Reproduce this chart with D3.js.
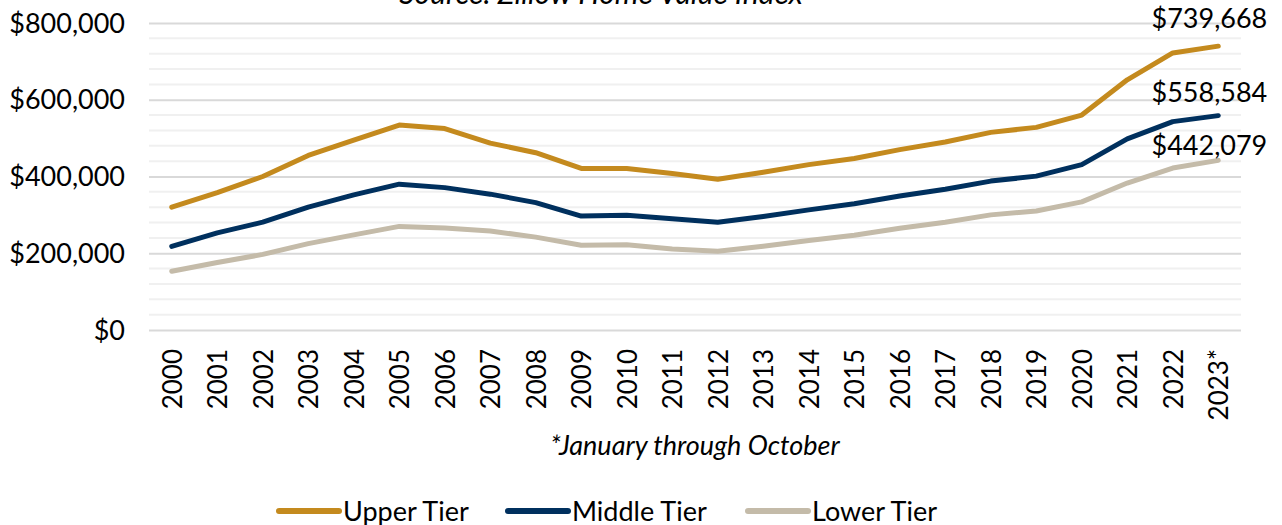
<!DOCTYPE html>
<html>
<head>
<meta charset="utf-8">
<script src="https://cdn.jsdelivr.net/npm/d3@7"></script>
<style>
  body { margin: 0; background: #fff; }
  text { font-family: Lato, "Noto Sans", sans-serif; fill: #000; }
</style>
</head>
<body>
<div class="svgContainer"></div>
<script>
// Data (Zillow Home Value Index)
var YEARS = ["2000", "2001", "2002", "2003", "2004", "2005", "2006", "2007", "2008", "2009", "2010", "2011",
             "2012", "2013", "2014", "2015", "2016", "2017", "2018", "2019", "2020", "2021", "2022", "2023*"];
var UPPER = [320000, 358000, 400000, 455000, 495000, 534000, 525000, 487000, 462000, 421000, 421000, 408000,
             393000, 411000, 431000, 447000, 470000, 490000, 515000, 528000, 560000, 652000, 722000, 739668];
var MIDDLE = [218000, 253000, 281000, 320000, 352000, 380000, 371000, 354000, 332000, 297000, 299000, 290000,
              281000, 296000, 313000, 329000, 349000, 367000, 388000, 401000, 431000, 498000, 543000, 558584];
var LOWER = [153000, 176000, 197000, 225000, 248000, 270000, 266000, 258000, 242000, 221000, 222000, 211000,
             205000, 218000, 233000, 247000, 265000, 281000, 300000, 310000, 334000, 383000, 422000, 442079];
var SERIES_NAMES = ["Upper Tier", "Middle Tier", "Lower Tier"];
var SERIES_COLORS = ["#C48A1E", "#00305E", "#C4BBA9"];
var Y_TICKS = [0, 200000, 400000, 600000, 800000];

var W = 1282, H = 525;
var margin = {left: 149, right: 41, top: 23, bottom: 195},
    width = W - margin.left - margin.right,
    height = H - margin.top - margin.bottom;

var svg = d3.select(".svgContainer").append("svg")
    .attr("width", W)
    .attr("height", H);

var g = svg.append("g")
    .attr("transform", "translate(" + margin.left + "," + margin.top + ")");

var scaleX = d3.scalePoint()
    .domain(YEARS)
    .range([0, width])
    .padding(0.5);

var scaleY = d3.scaleLinear()
    .domain([0, 800000])
    .range([height, 0]);

var money = function(d) { return "$" + d3.format(",")(d); };

// minor gridlines every 40,000
var minor = d3.range(40000, 800000, 40000).filter(function(v) { return v % 200000 !== 0; });
g.selectAll(".minor").data(minor).enter().append("line")
    .attr("x1", 0).attr("x2", width)
    .attr("y1", function(d) { return scaleY(d); })
    .attr("y2", function(d) { return scaleY(d); })
    .attr("stroke", "#f0f0f0")
    .attr("stroke-width", 2);

// y axis (major gridlines + labels)
var yAxis = g.append("g")
    .call(d3.axisLeft(scaleY).tickValues(Y_TICKS).tickSize(-width).tickPadding(24).tickFormat(money));
yAxis.select(".domain").remove();
yAxis.selectAll(".tick line").attr("stroke", "#d9d9d9").attr("stroke-width", 2);
yAxis.selectAll(".tick text")
    .attr("font-size", "27px")
    .attr("font-family", "Lato")
    .attr("fill", "#000")
    .attr("dy", "0.34em");

// x axis labels, rotated
var xAxis = g.append("g")
    .attr("transform", "translate(0," + height + ")")
    .call(d3.axisBottom(scaleX).tickSize(0).tickPadding(0));
xAxis.select(".domain").remove();
xAxis.selectAll(".tick text")
    .attr("font-size", "26px")
    .attr("font-family", "Liberation Sans, Arial, sans-serif")
    .attr("fill", "#000")
    .attr("text-anchor", "end")
    .attr("transform", "rotate(-90)")
    .attr("x", -19)
    .attr("y", 0)
    .attr("dy", "0.36em");

// lines
var line = d3.line()
    .x(function(d, i) { return scaleX(YEARS[i]); })
    .y(function(d) { return scaleY(d); });

var allSeries = [UPPER, MIDDLE, LOWER];
// draw lower first so the upper lines sit on top
[2, 1, 0].forEach(function(k) {
    g.append("path")
        .datum(allSeries[k])
        .attr("d", line)
        .attr("fill", "none")
        .attr("stroke", SERIES_COLORS[k])
        .attr("stroke-width", 5)
        .attr("stroke-linejoin", "round")
        .attr("stroke-linecap", "round");
});

// end value labels
var lastYear = YEARS[YEARS.length - 1];
var labelDy = [-18, -14, -5];
allSeries.forEach(function(s, k) {
    var v = s[s.length - 1];
    g.append("text")
        .attr("x", scaleX(lastYear) + 49)
        .attr("y", scaleY(v) + labelDy[k])
        .attr("text-anchor", "end")
        .attr("font-size", "27px")
        .text(money(v));
});

// title, mostly cut off at the top
svg.append("text")
    .attr("x", 601)
    .attr("y", 4)
    .attr("text-anchor", "middle")
    .attr("font-size", "30px")
    .attr("font-style", "italic")
    .text("Source: Zillow Home Value Index");

// footnote
svg.append("text")
    .attr("x", 695)
    .attr("y", 455)
    .attr("text-anchor", "middle")
    .attr("font-size", "27px")
    .attr("font-style", "italic")
    .text("*January through October");

// legend
var legendX = [277, 506, 746];
var legend = svg.selectAll(".legend").data(SERIES_NAMES).enter().append("g")
    .attr("transform", function(d, i) { return "translate(" + legendX[i] + ",511)"; });
legend.append("line")
    .attr("x1", 2).attr("x2", 62)
    .attr("stroke", function(d, i) { return SERIES_COLORS[i]; })
    .attr("stroke-width", 6)
    .attr("stroke-linecap", "round");
legend.append("text")
    .attr("x", 66)
    .attr("dy", "0.36em")
    .attr("font-size", "27px")
    .text(function(d) { return d; });
</script>
</body>
</html>
